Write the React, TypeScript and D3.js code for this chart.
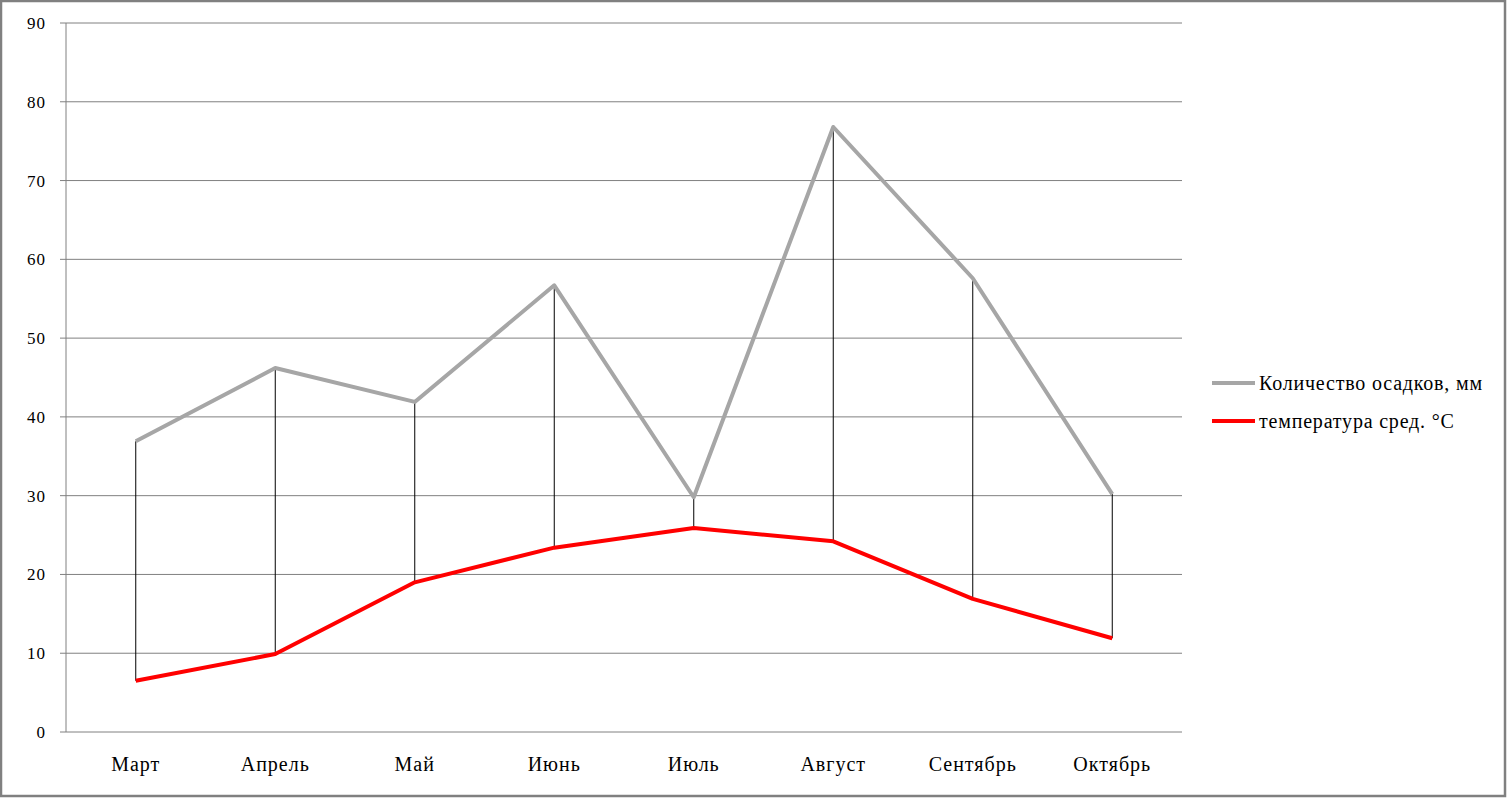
import React from "react";
import * as d3 from "d3";

const categories = ["Март", "Апрель", "Май", "Июнь", "Июль", "Август", "Сентябрь", "Октябрь"];
const precipitation = [36.9, 46.2, 41.9, 56.7, 29.8, 76.8, 57.6, 30.2];
const temperature = [6.5, 9.9, 19.0, 23.4, 25.9, 24.2, 16.9, 11.9];
const yTicks = [0, 10, 20, 30, 40, 50, 60, 70, 80, 90];
const seriesNames = ["Количество осадков, мм", "температура сред. °C"];

const W = 1508, H = 798;
const left = 66, right = 1182, top = 23, bottom = 732;
const font = "'Liberation Serif', 'DejaVu Serif', serif";

export default function App() {
  const x = d3.scaleBand<string>().domain(categories).range([left, right]);
  const cx = (c: string) => (x(c) as number) + x.bandwidth() / 2;
  const y = d3.scaleLinear().domain([0, 90]).range([bottom, top]);
  const line = d3.line<number>().x((_, i) => cx(categories[i])).y((d) => y(d));

  return (
    <div style={{ position: "fixed", left: 0, top: 0 }}>
      <svg width={W} height={H} style={{ display: "block", background: "#fff" }}>
        <rect x={1} y={1} width={W - 4} height={H - 3} fill="#fff" stroke="#808080" strokeWidth={2.5} />
        {yTicks.map((t) => (
          <g key={t}>
            <line x1={60} x2={right} y1={y(t)} y2={y(t)} stroke="#808080" strokeWidth={1} />
            <text x={46} y={y(t)} dy="0.35em" textAnchor="end" fontFamily={font} fontSize={17} letterSpacing={1} fill="#000">{t}</text>
          </g>
        ))}
        <line x1={left} x2={left} y1={top} y2={bottom} stroke="#808080" strokeWidth={1} />
        {categories.map((c, i) => (
          <g key={c}>
            <line x1={cx(c)} x2={cx(c)} y1={y(precipitation[i])} y2={y(temperature[i])} stroke="#000" strokeWidth={1} />
            <text x={cx(c)} y={771} textAnchor="middle" fontFamily={font} fontSize={20} letterSpacing={1} fill="#000">{c}</text>
          </g>
        ))}
        <path d={line(precipitation) || ""} fill="none" stroke="#a6a6a6" strokeWidth={4} strokeLinejoin="round" />
        <path d={line(temperature) || ""} fill="none" stroke="#ff0000" strokeWidth={4} strokeLinejoin="round" />
        {seriesNames.map((n, i) => (
          <g key={n} transform={`translate(0, ${383 + i * 38})`}>
            <line x1={1212} x2={1255} y1={0} y2={0} stroke={i === 0 ? "#a6a6a6" : "#ff0000"} strokeWidth={4} />
            <text x={1259} y={0} dy="0.35em" fontFamily={font} fontSize={20} letterSpacing={0.8} fill="#000">{n}</text>
          </g>
        ))}
      </svg>
    </div>
  );
}
